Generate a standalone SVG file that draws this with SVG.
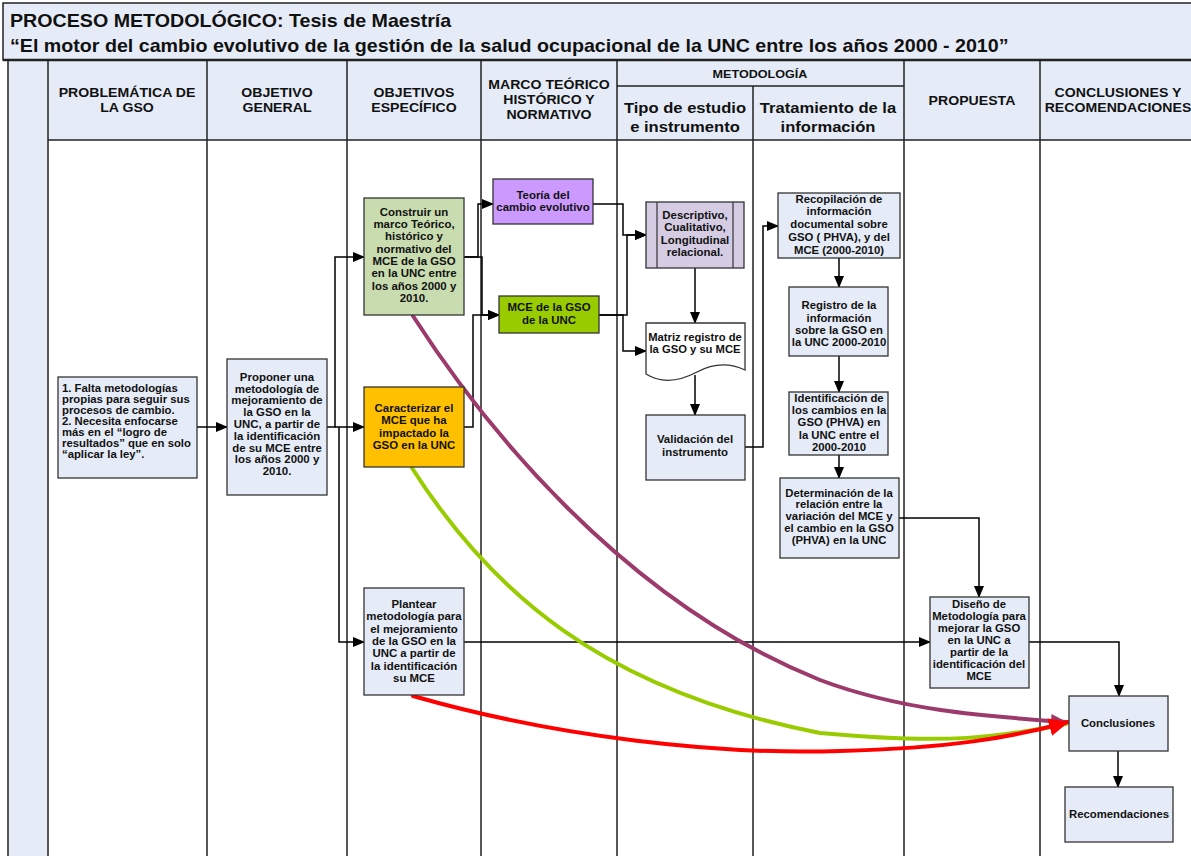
<svg xmlns="http://www.w3.org/2000/svg" width="1191" height="856" viewBox="0 0 1191 856">
<defs>
<style>
text{font-family:"Liberation Sans",Arial,sans-serif;font-weight:bold;fill:#111}
.t text{font-size:10.5px;text-anchor:middle}
.h text{font-size:12.5px;text-anchor:middle}
.hb text{font-size:15.5px;text-anchor:middle}
.grid{stroke:#222;stroke-width:1.5;fill:none}
.box{stroke:#333;stroke-width:1.3}
.lb{fill:#e6ecf7}
.c{stroke:#000;stroke-width:1.5;fill:none;marker-end:url(#ar)}
.cv{fill:none;stroke-width:4;stroke-linecap:round}
</style>
<marker id="ar" markerUnits="userSpaceOnUse" markerWidth="12" markerHeight="12" viewBox="0 0 12 12" refX="11" refY="6" orient="auto"><path d="M0,1 L12,6 L0,11 Z" fill="#000"/></marker>
<marker id="arP" markerUnits="userSpaceOnUse" markerWidth="16" markerHeight="16" viewBox="0 0 16 16" refX="15" refY="8" orient="auto"><path d="M0,1 L16,8 L0,15 Z" fill="#9b3a6b"/></marker>
<marker id="arG" markerUnits="userSpaceOnUse" markerWidth="16" markerHeight="16" viewBox="0 0 16 16" refX="15" refY="8" orient="auto"><path d="M0,1 L16,8 L0,15 Z" fill="#99cc00"/></marker>
<marker id="arR" markerUnits="userSpaceOnUse" markerWidth="20" markerHeight="20" viewBox="0 0 20 20" refX="19" refY="10" orient="auto"><path d="M0,1 L20,10 L0,19 Z" fill="#ff0000"/></marker>
</defs>
<rect width="1191" height="856" fill="#fff"/>
<g id="frame">
<rect x="3" y="3" width="1195" height="57" fill="#e6ecf7" stroke="#222" stroke-width="1.5"/>
<g transform="translate(10 0) scale(1.092 1)">
<text x="0" y="27" style="font-size:18px">PROCESO METODOLÓGICO: Tesis de Maestría</text>
<text x="0" y="52" style="font-size:18px">“El motor del cambio evolutivo de la gestión de la salud ocupacional de la UNC entre los años 2000 - 2010”</text>
</g>
<rect x="8" y="60" width="1190" height="80" fill="#e6ecf7"/>
<rect x="8" y="60" width="40" height="800" fill="#e6ecf7"/>
<line x1="3" y1="60" x2="1191" y2="60" stroke="#222" stroke-width="2.5"/>
<line x1="48" y1="140" x2="1191" y2="140" class="grid"/>
<line x1="617" y1="86" x2="904" y2="86" class="grid"/>
<path class="grid" d="M8,60 V856 M48,60 V856 M207,60 V856 M347,60 V856 M481,60 V856 M617,60 V856 M753,86 V856 M904,60 V856 M1040,60 V856"/>
<g class="h" transform="translate(127 0) scale(1.13 1)"><text x="0" y="97">PROBLEMÁTICA DE</text><text x="0" y="112">LA GSO</text></g>
<g class="h" transform="translate(277 0) scale(1.13 1)"><text x="0" y="97">OBJETIVO</text><text x="0" y="112">GENERAL</text></g>
<g class="h" transform="translate(414 0) scale(1.13 1)"><text x="0" y="97">OBJETIVOS</text><text x="0" y="112">ESPECÍFICO</text></g>
<g class="h" transform="translate(549 0) scale(1.13 1)"><text x="0" y="89">MARCO TEÓRICO</text><text x="0" y="104">HISTÓRICO Y</text><text x="0" y="119">NORMATIVO</text></g>
<g class="t" transform="translate(760 0) scale(1.2 1)"><text x="0" y="78">METODOLOGÍA</text></g>
<g class="hb" transform="translate(685 0) scale(1.07 1)"><text x="0" y="113">Tipo de estudio</text><text x="0" y="132">e instrumento</text></g>
<g class="hb" transform="translate(828 0) scale(1.07 1)"><text x="0" y="113">Tratamiento de la</text><text x="0" y="132">información</text></g>
<g class="h" transform="translate(972 0) scale(1.13 1)"><text x="0" y="105">PROPUESTA</text></g>
<g class="h" transform="translate(1118 0) scale(1.13 1)"><text x="0" y="97">CONCLUSIONES Y</text><text x="0" y="112">RECOMENDACIONES</text></g>
</g>
<g id="connectors">
<path class="c" d="M197,427 H227"/>
<path class="c" d="M327,427 H335 V257 H364"/>
<path class="c" d="M335,427 H364"/>
<path class="c" d="M339,427 V642 H364"/>
<path class="c" d="M464,257 H478 V204 H493"/>
<path class="c" d="M464,257 H482 V315 H499"/>
<path class="c" d="M464,427 H473 V315 H499"/>
<path class="c" d="M593,204 H623 V235 H646"/>
<path class="c" d="M599,315 H627 V235 H646"/>
<path class="c" d="M599,315 H623 V351 H646"/>
<path class="c" d="M695,268 V323"/>
<path class="c" d="M695,375 V415"/>
<path class="c" d="M745,447 H763 V226 H778"/>
<path class="c" d="M839,258 V287"/>
<path class="c" d="M839,356 V392"/>
<path class="c" d="M839,455 V478"/>
<path class="c" d="M899,518 H979 V597"/>
<path class="c" d="M464,642 H930"/>
<path class="c" d="M1029,642 H1119 V696"/>
<path class="c" d="M1118,751 V787"/>
<path class="cv" stroke="#9b3a6b" marker-end="url(#arP)" d="M413,316 C480,420 620,600 820,680 C900,710 980,716 1066,722"/>
<path class="cv" stroke="#99cc00" marker-end="url(#arG)" d="M412,468 C490,590 600,690 820,733 C950,745 1000,737 1066,724"/>
<path class="cv" stroke="#ff0000" marker-end="url(#arR)" d="M413,696 C560,738 720,755 840,751 C950,748 1010,738 1068,722"/>
</g>
<g id="n_problema">
<rect class="box lb" x="58" y="377" width="139" height="101"/>
<g transform="translate(62 0) scale(1.08 1)" style="font-size:10.5px">
<text x="0" y="392">1. Falta  metodologías</text>
<text x="0" y="403">propias para seguir sus</text>
<text x="0" y="414">procesos de cambio.</text>
<text x="0" y="425">2. Necesita enfocarse</text>
<text x="0" y="436">más en el “logro de</text>
<text x="0" y="447">resultados” que en solo</text>
<text x="0" y="458">“aplicar la ley”.</text>
</g>
</g>
<g id="n_general">
<rect class="box lb" x="227" y="359" width="100" height="136"/>
<g class="t" transform="translate(277 0) scale(1.09 1)">
<text x="0" y="381">Proponer una</text>
<text x="0" y="393">metodología de</text>
<text x="0" y="404">mejoramiento de</text>
<text x="0" y="416">la GSO en la</text>
<text x="0" y="428">UNC, a partir de</text>
<text x="0" y="440">la identificación</text>
<text x="0" y="452">de su MCE entre</text>
<text x="0" y="463">los años 2000 y</text>
<text x="0" y="475">2010.</text>
</g>
</g>
<g id="n_construir">
<rect class="box" fill="#c9dcb0" x="364" y="198" width="100" height="117"/>
<g class="t" transform="translate(414 0) scale(1.09 1)">
<text x="0" y="216">Construir un</text>
<text x="0" y="228">marco Teórico,</text>
<text x="0" y="240">histórico y</text>
<text x="0" y="253">normativo del</text>
<text x="0" y="265">MCE de la GSO</text>
<text x="0" y="277">en la UNC  entre</text>
<text x="0" y="290">los años 2000 y</text>
<text x="0" y="302">2010.</text>
</g>
</g>
<g id="n_caracterizar">
<rect class="box" fill="#ffc000" x="364" y="387" width="100" height="80"/>
<g class="t" transform="translate(414 0) scale(1.09 1)">
<text x="0" y="412">Caracterizar el</text>
<text x="0" y="424">MCE que ha</text>
<text x="0" y="437">impactado la</text>
<text x="0" y="449">GSO en la UNC</text>
</g>
</g>
<g id="n_plantear">
<rect class="box lb" x="364" y="588" width="100" height="107"/>
<g class="t" transform="translate(414 0) scale(1.09 1)">
<text x="0" y="608">Plantear</text>
<text x="0" y="620">metodología para</text>
<text x="0" y="633">el mejoramiento</text>
<text x="0" y="645">de la GSO en la</text>
<text x="0" y="657">UNC a partir de</text>
<text x="0" y="670">la identificación</text>
<text x="0" y="682">su MCE</text>
</g>
</g>
<g id="n_teoria">
<rect class="box" fill="#cc99ff" x="493" y="179" width="100" height="45"/>
<g class="t" transform="translate(543 0) scale(1.09 1)">
<text x="0" y="199">Teoría del</text>
<text x="0" y="211">cambio evolutivo</text>
</g>
</g>
<g id="n_mce">
<rect class="box" fill="#99cc00" x="499" y="296" width="100" height="37"/>
<g class="t" transform="translate(549 0) scale(1.09 1)">
<text x="0" y="311">MCE de la GSO</text>
<text x="0" y="324">de la UNC</text>
</g>
</g>
<g id="n_descriptivo">
<rect class="box" fill="#d5cce4" x="646" y="202" width="98" height="66"/>
<path stroke="#333" stroke-width="1.2" d="M657,202 V268 M733,202 V268"/>
<g class="t" transform="translate(695 0) scale(1.09 1)">
<text x="0" y="219">Descriptivo,</text>
<text x="0" y="231">Cualitativo,</text>
<text x="0" y="244">Longitudinal</text>
<text x="0" y="256">relacional.</text>
</g>
</g>
<g id="n_matriz">
<path class="box" fill="#fff" d="M646,323 H745 V370 C728,362 712,364 697,372 C680,381 662,384 646,374 Z"/>
<g class="t" transform="translate(695 0) scale(1.07 1)">
<text x="0" y="341">Matriz registro de</text>
<text x="0" y="353">la GSO y su MCE</text>
</g>
</g>
<g id="n_validacion">
<rect class="box lb" x="646" y="415" width="99" height="65"/>
<g class="t" transform="translate(695 0) scale(1.09 1)">
<text x="0" y="443">Validación del</text>
<text x="0" y="456">instrumento</text>
</g>
</g>
<g id="n_recopilacion">
<rect class="box lb" x="778" y="193" width="122" height="65"/>
<g class="t" transform="translate(839 0) scale(1.08 1)">
<text x="0" y="203">Recopilación de</text>
<text x="0" y="215">información</text>
<text x="0" y="228">documental sobre</text>
<text x="0" y="241">GSO ( PHVA), y del</text>
<text x="0" y="254">MCE (2000-2010)</text>
</g>
</g>
<g id="n_registro">
<rect class="box lb" x="789" y="287" width="99" height="69"/>
<g class="t" transform="translate(839 0) scale(1.08 1)">
<text x="0" y="309">Registro de la</text>
<text x="0" y="322">información</text>
<text x="0" y="334">sobre la GSO en</text>
<text x="0" y="346">la UNC 2000-2010</text>
</g>
</g>
<g id="n_identificacion">
<rect class="box lb" x="789" y="392" width="99" height="63"/>
<g class="t" transform="translate(839 0) scale(1.08 1)">
<text x="0" y="402">Identificación de</text>
<text x="0" y="414">los cambios en la</text>
<text x="0" y="426">GSO (PHVA) en</text>
<text x="0" y="439">la UNC entre el</text>
<text x="0" y="451">2000-2010</text>
</g>
</g>
<g id="n_determinacion">
<rect class="box lb" x="780" y="478" width="119" height="80"/>
<g class="t" transform="translate(839 0) scale(1.08 1)">
<text x="0" y="497">Determinación de la</text>
<text x="0" y="508">relación entre la</text>
<text x="0" y="520">variación del MCE y</text>
<text x="0" y="532">el cambio en la GSO</text>
<text x="0" y="544">(PHVA) en la UNC</text>
</g>
</g>
<g id="n_diseno">
<rect class="box lb" x="930" y="597" width="99" height="91"/>
<g class="t" transform="translate(979 0) scale(1.08 1)">
<text x="0" y="608">Diseño de</text>
<text x="0" y="620">Metodología para</text>
<text x="0" y="632">mejorar la GSO</text>
<text x="0" y="644">en la UNC  a</text>
<text x="0" y="656">partir de la</text>
<text x="0" y="668">identificación del</text>
<text x="0" y="680">MCE</text>
</g>
</g>
<g id="n_conclusiones">
<rect class="box lb" x="1069" y="696" width="99" height="55"/>
<g class="t" transform="translate(1118 0) scale(1.08 1)"><text x="0" y="727">Conclusiones</text></g>
</g>
<g id="n_recomendaciones">
<rect class="box lb" x="1065" y="787" width="108" height="55"/>
<g class="t" transform="translate(1119 0) scale(1.08 1)"><text x="0" y="818">Recomendaciones</text></g>
</g>
</svg>
